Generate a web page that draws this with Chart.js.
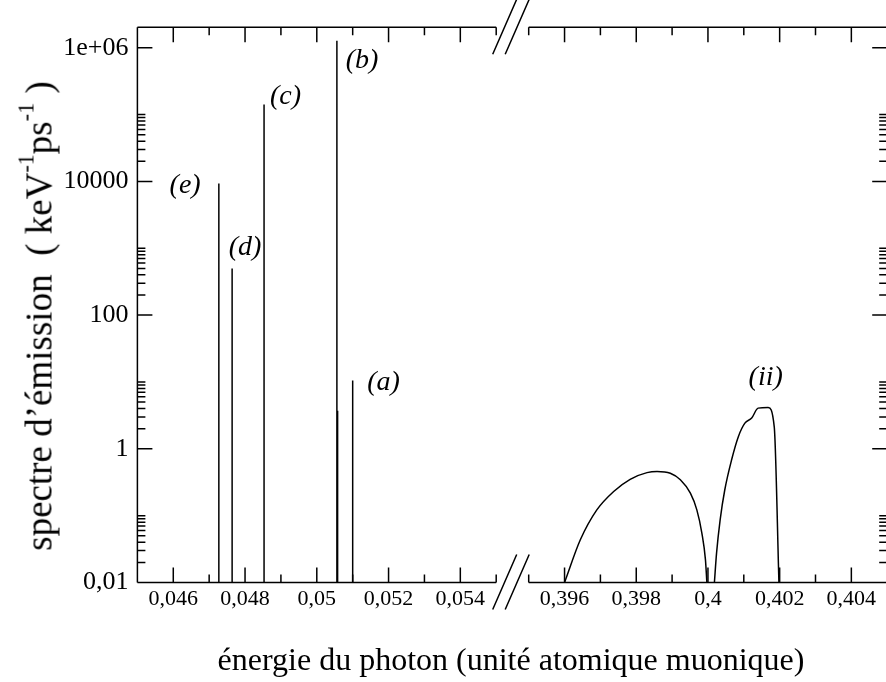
<!DOCTYPE html>
<html>
<head>
<meta charset="utf-8">
<script src="https://cdn.jsdelivr.net/npm/chart.js@4"></script>
<style>
  html, body { margin: 0; padding: 0; background: #fff; overflow: hidden; }
  #wrap { position: relative; width: 886px; height: 682px; overflow: hidden; }
  #left { position: absolute; left: 0; top: 0; }
  #right { position: absolute; left: 512px; top: 0; }
  .title { position: absolute; font-family: 'Liberation Serif', 'Times New Roman', serif; color: #000; white-space: pre; line-height: 1; }
  #xtitle { left: 511px; top: 643px; font-size: 32px; transform: translateX(-50%); }
  #ytitle { left: 39px; top: 316px; font-size: 37px; transform: translate(-50%, -50%) rotate(-90deg); }
  #ytitle sup { font-size: 0.6em; vertical-align: 0.8em; line-height: 0; }
</style>
</head>
<body>
<div id="wrap">
  <canvas id="left" width="540" height="682"></canvas>
  <canvas id="right" width="376" height="682"></canvas>
  <div class="title" id="xtitle">énergie du photon (unité atomique muonique)</div>
  <div class="title" id="ytitle">spectre d’émission  ( keV<sup>-1</sup>ps<sup>-1</sup> )</div>
</div>
<script>
// x ranges of the two panels (broken axis)
const xRangeL = [0.045, 0.055];
const xRangeR = [0.395, 0.405];
const xTicksL = [0.046, 0.048, 0.05, 0.052, 0.054];
const xMinorL = [0.045, 0.047, 0.049, 0.051, 0.053, 0.055];
const xTicksR = [0.396, 0.398, 0.4, 0.402, 0.404];
const xMinorR = [0.395, 0.397, 0.399, 0.401, 0.403, 0.405];

// y axis (log)
const yRange = [0.01, 2.02e6];
const yTicks = [0.01, 1, 100, 10000, 1e6];
const yTickLabels = ['0,01', '1', '100', '10000', '1e+06'];

// emission lines, left panel
const peakEnergy = [0.04727, 0.04764, 0.04853, 0.05056, 0.05058, 0.05100];
const peakHeight = [9300, 500, 142000, 1270000, 3.7, 10.5];

// right panel curves
const arc1E = [0.396, 0.39644, 0.3969, 0.39737, 0.39783, 0.3983, 0.39858, 0.39895, 0.39923, 0.39951, 0.39969, 0.39983, 0.39993, 0.39997];
const arc1I = [0.01, 0.0435, 0.122, 0.23, 0.35, 0.44, 0.458, 0.43, 0.344, 0.217, 0.122, 0.055, 0.022, 0.01];
const arc2E = [0.40018, 0.40024, 0.40034, 0.40047, 0.40066, 0.40085, 0.40103, 0.40122, 0.4014, 0.40168, 0.40185, 0.40198];
const arc2I = [0.01, 0.0275, 0.0867, 0.244, 0.685, 1.53, 2.42, 2.88, 4.06, 4.15, 2.11, 0.01];

// annotations (data coordinates)
const labelsL = ['(e)', '(d)', '(c)', '(b)', '(a)'];
const labelsLX = [0.04633, 0.04800, 0.04913, 0.05126, 0.05186];
const labelsLY = [8600, 1020, 185000, 650000, 9.7];
const labelsR = ['(ii)'];
const labelsRX = [0.40161];
const labelsRY = [11.5];

const SERIF = "'Liberation Serif', 'Times New Roman', serif";
Chart.defaults.font.family = SERIF;
Chart.defaults.color = '#000';

function fmt(v) {
    return String(v).replace('.', ',');
}

// minor ticks of the log axis
const yMinor = [];
for (let e = -2; e <= 4; e += 2) {
    for (let k = 2; k <= 9; k++) yMinor.push(k * Math.pow(10, e));
    yMinor.push(Math.pow(10, e + 1));
}

const framePlugin = {
    id: 'frame',
    afterDraw(chart, args, opts) {
        const { ctx, chartArea: a, scales: { x, y } } = chart;
        ctx.save();
        ctx.strokeStyle = '#000';
        ctx.lineWidth = 1.5;
        ctx.beginPath();
        ctx.moveTo(a.left, a.top); ctx.lineTo(a.right, a.top);
        ctx.moveTo(a.left, a.bottom); ctx.lineTo(a.right, a.bottom);
        const sx = opts.side === 'left' ? a.left : a.right;
        const dir = opts.side === 'left' ? 1 : -1;
        ctx.moveTo(sx, a.top); ctx.lineTo(sx, a.bottom);

        // x ticks, top and bottom, pointing inward
        opts.major.forEach(v => {
            const px = x.getPixelForValue(v);
            ctx.moveTo(px, a.bottom); ctx.lineTo(px, a.bottom - 15);
            ctx.moveTo(px, a.top); ctx.lineTo(px, a.top + 15);
        });
        opts.minor.forEach(v => {
            const px = x.getPixelForValue(v);
            ctx.moveTo(px, a.bottom); ctx.lineTo(px, a.bottom - 8);
            ctx.moveTo(px, a.top); ctx.lineTo(px, a.top + 8);
        });
        // y ticks on the outer side
        yTicks.forEach(v => {
            const py = y.getPixelForValue(v);
            ctx.moveTo(sx, py); ctx.lineTo(sx + dir * 15, py);
        });
        yMinor.forEach(v => {
            const py = y.getPixelForValue(v);
            ctx.moveTo(sx, py); ctx.lineTo(sx + dir * 8, py);
        });
        ctx.stroke();

        // break marks
        if (opts.side === 'left') {
            ctx.beginPath();
            [a.top, a.bottom].forEach(yy => {
                for (let i = 0; i < 2; i++) {
                    const x0 = a.right - 3.5 + i * 12.5;
                    ctx.moveTo(x0, yy + 27);
                    ctx.lineTo(x0 + 24, yy - 28);
                }
            });
            ctx.stroke();
        }

        // annotations
        ctx.fillStyle = '#000';
        ctx.font = 'italic 28px ' + SERIF;
        ctx.textAlign = 'center';
        ctx.textBaseline = 'middle';
        opts.labels.forEach((t, i) => {
            ctx.fillText(t, x.getPixelForValue(opts.lx[i]), y.getPixelForValue(opts.ly[i]));
        });
        ctx.restore();
    }
};

function xScale(range, ticks) {
    return {
        type: 'linear',
        position: 'bottom',
        min: range[0],
        max: range[1],
        grid: { display: false, drawTicks: false },
        border: { display: false },
        ticks: {
            font: { size: 22 },
            padding: 4,
            autoSkip: false,
            maxRotation: 0,
            callback: v => fmt(v)
        },
        afterBuildTicks: s => { s.ticks = ticks.map(v => ({ value: v })); },
        afterFit: s => { s.height = 99.5; }
    };
}

function yScale(show) {
    return {
        type: 'logarithmic',
        position: 'left',
        display: show,
        min: yRange[0],
        max: yRange[1],
        grid: { display: false, drawTicks: false },
        border: { display: false },
        ticks: {
            font: { size: 26 },
            padding: 9,
            callback: v => {
                const i = yTicks.findIndex(t => Math.abs(Math.log10(t) - Math.log10(v)) < 1e-6);
                return i >= 0 ? yTickLabels[i] : '';
            }
        },
        afterBuildTicks: s => { s.ticks = yTicks.map(v => ({ value: v })); },
        afterFit: s => { s.width = show ? 137.4 : 0; }
    };
}

const lineStyle = {
    borderColor: '#000',
    borderWidth: 1.5,
    pointRadius: 0,
    fill: false
};

// left panel: vertical emission lines
const spikePts = [];
peakEnergy.forEach((e, i) => {
    spikePts.push({ x: e, y: yRange[0] }, { x: e, y: peakHeight[i] }, { x: e, y: null });
});

new Chart(document.getElementById('left'), {
    type: 'line',
    data: { datasets: [Object.assign({ data: spikePts, spanGaps: false }, lineStyle)] },
    options: {
        responsive: false,
        animation: false,
        devicePixelRatio: 1,
        layout: { padding: { left: 0, top: 27.3, right: 43.8, bottom: 0 } },
        plugins: {
            legend: { display: false },
            tooltip: { enabled: false },
            frame: { side: 'left', major: xTicksL, minor: xMinorL, labels: labelsL, lx: labelsLX, ly: labelsLY }
        },
        scales: { x: xScale(xRangeL, xTicksL), y: yScale(true) }
    },
    plugins: [framePlugin]
});

// right panel: two continuous bands
new Chart(document.getElementById('right'), {
    type: 'line',
    data: {
        datasets: [
            Object.assign({ data: arc1E.map((e, i) => ({ x: e, y: arc1I[i] })), cubicInterpolationMode: 'monotone' }, lineStyle),
            Object.assign({ data: arc2E.map((e, i) => ({ x: e, y: arc2I[i] })), cubicInterpolationMode: 'monotone' }, lineStyle)
        ]
    },
    options: {
        responsive: false,
        animation: false,
        devicePixelRatio: 1,
        layout: { padding: { left: 16.7, top: 27.3, right: 0.8, bottom: 0 } },
        plugins: {
            legend: { display: false },
            tooltip: { enabled: false },
            frame: { side: 'right', major: xTicksR, minor: xMinorR, labels: labelsR, lx: labelsRX, ly: labelsRY }
        },
        scales: { x: xScale(xRangeR, xTicksR), y: yScale(false) }
    },
    plugins: [framePlugin]
});
</script>
</body>
</html>
